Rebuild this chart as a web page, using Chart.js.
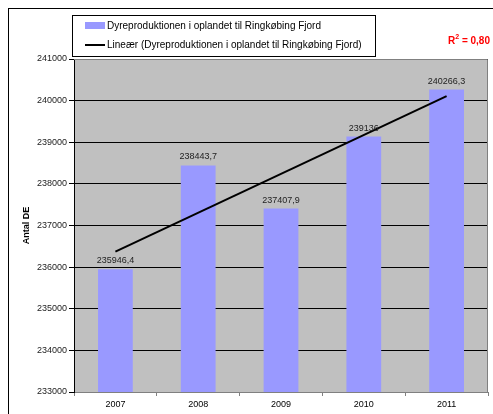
<!DOCTYPE html>
<html>
<head>
<meta charset="utf-8">
<script src="https://cdn.jsdelivr.net/npm/chart.js@4/dist/chart.umd.min.js"></script>
<style>
  html, body { margin: 0; padding: 0; background: #fff; }
  canvas { display: block; }
</style>
</head>
<body>
<canvas id="canvas-bar" width="493" height="414"></canvas>
<script>
"use strict";

// Data
// =============================================================
var years = ['2007', '2008', '2009', '2010', '2011'];
var animals = [235946.4, 238443.7, 237407.9, 239136, 240266.3];
// linear trend, read at the first and last year
var trend = [236374, null, null, null, 240106];
var seriesLabel = 'Dyreproduktionen i oplandet til Ringkøbing Fjord';
var trendLabel = 'Lineær (Dyreproduktionen i oplandet til Ringkøbing Fjord)';
var rSquared = '0,80';
var yMin = 233000;
var yMax = 241000;
var yStep = 1000;

var FONT = 'Arial, "Liberation Sans", sans-serif';

// grey plot area + frame
var plotArea = {
  id: 'plotArea',
  beforeDraw: function (chart) {
    var a = chart.chartArea, ctx = chart.ctx;
    ctx.save();
    ctx.fillStyle = '#c0c0c0';
    ctx.fillRect(a.left, a.top, a.right - a.left, a.bottom - a.top);
    // outer chart border
    ctx.strokeStyle = '#000';
    ctx.lineWidth = 1;
    ctx.strokeRect(8.5, 8.5, 600, 600);
    ctx.restore();
  },
  beforeDatasetsDraw: function (chart) {
    var a = chart.chartArea, ctx = chart.ctx;
    ctx.save();
    ctx.strokeStyle = '#808080';
    ctx.lineWidth = 1;
    ctx.beginPath();
    ctx.moveTo(a.left, a.top + 0.5);
    ctx.lineTo(a.right - 0.5, a.top + 0.5);
    ctx.lineTo(a.right - 0.5, a.bottom);
    ctx.stroke();
    ctx.restore();
  }
};

// value labels above the bars
var barLabels = {
  id: 'barLabels',
  afterDatasetsDraw: function (chart) {
    var ctx = chart.ctx;
    var meta = chart.getDatasetMeta(1);
    ctx.save();
    ctx.font = '9px ' + FONT;
    ctx.fillStyle = '#222';
    ctx.textAlign = 'center';
    ctx.textBaseline = 'bottom';
    meta.data.forEach(function (bar, i) {
      var txt = String(animals[i]).replace('.', ',');
      ctx.fillText(txt, bar.x, bar.y - 4);
    });
    ctx.restore();
  }
};

// boxed legend and R² text
var legendBox = {
  id: 'legendBox',
  afterDraw: function (chart) {
    var ctx = chart.ctx;
    ctx.save();
    ctx.fillStyle = '#fff';
    ctx.fillRect(72, 15, 303, 41);
    ctx.strokeStyle = '#000';
    ctx.lineWidth = 1;
    ctx.strokeRect(72.5, 15.5, 303, 41);

    ctx.fillStyle = '#9999ff';
    ctx.fillRect(85, 22, 20, 7);
    ctx.strokeStyle = '#000';
    ctx.lineWidth = 2;
    ctx.beginPath();
    ctx.moveTo(85, 45);
    ctx.lineTo(105, 45);
    ctx.stroke();

    ctx.font = '10px ' + FONT;
    ctx.fillStyle = '#000';
    ctx.textBaseline = 'middle';
    ctx.textAlign = 'left';
    ctx.fillText(seriesLabel, 107, 26);
    ctx.fillText(trendLabel, 107, 45);

    // R² = 0,80
    ctx.fillStyle = '#ff0000';
    ctx.font = 'bold 10px ' + FONT;
    ctx.textBaseline = 'alphabetic';
    var x = 448;
    ctx.fillText('R', x, 44);
    x += ctx.measureText('R').width;
    ctx.font = 'bold 7px ' + FONT;
    ctx.fillText('2', x, 39);
    x += ctx.measureText('2').width;
    ctx.font = 'bold 10px ' + FONT;
    ctx.fillText(' = ' + rSquared, x, 44);
    ctx.restore();
  }
};

var config = {
  type: 'bar',
  data: {
    labels: years,
    datasets: [{
      type: 'line',
      label: trendLabel,
      data: trend,
      spanGaps: true,
      borderColor: '#000',
      borderWidth: 2,
      pointRadius: 0,
      fill: false,
      order: 0
    }, {
      label: seriesLabel,
      data: animals,
      backgroundColor: '#9999ff',
      borderWidth: 0,
      barPercentage: 0.42,
      categoryPercentage: 1,
      order: 1
    }]
  },
  options: {
    responsive: false,
    animation: false,
    layout: { padding: { left: 0, top: 59, right: 5, bottom: 0 } },
    plugins: {
      legend: { display: false },
      tooltip: { enabled: false }
    },
    scales: {
      x: {
        grid: {
          drawOnChartArea: false,
          drawTicks: true,
          tickLength: 4,
          color: '#808080'
        },
        border: { color: '#808080' },
        ticks: {
          color: '#000',
          padding: 3,
          font: { family: FONT, size: 9 }
        },
        afterFit: function (scale) { scale.height = 22; }
      },
      y: {
        min: yMin,
        max: yMax,
        ticks: {
          stepSize: yStep,
          color: '#222',
          padding: 2,
          font: { family: FONT, size: 9 },
          callback: function (v) { return String(v); }
        },
        grid: {
          color: '#000',
          tickLength: 5
        },
        border: { color: '#000' },
        title: {
          display: true,
          text: 'Antal DE',
          color: '#000',
          font: { family: FONT, size: 9, weight: 'bold' },
          padding: { top: 21, bottom: 0 }
        },
        afterFit: function (scale) { scale.width = 74; }
      }
    }
  },
  plugins: [plotArea, barLabels, legendBox]
};

var chart = new Chart(document.getElementById('canvas-bar'), config);
</script>
</body>
</html>
